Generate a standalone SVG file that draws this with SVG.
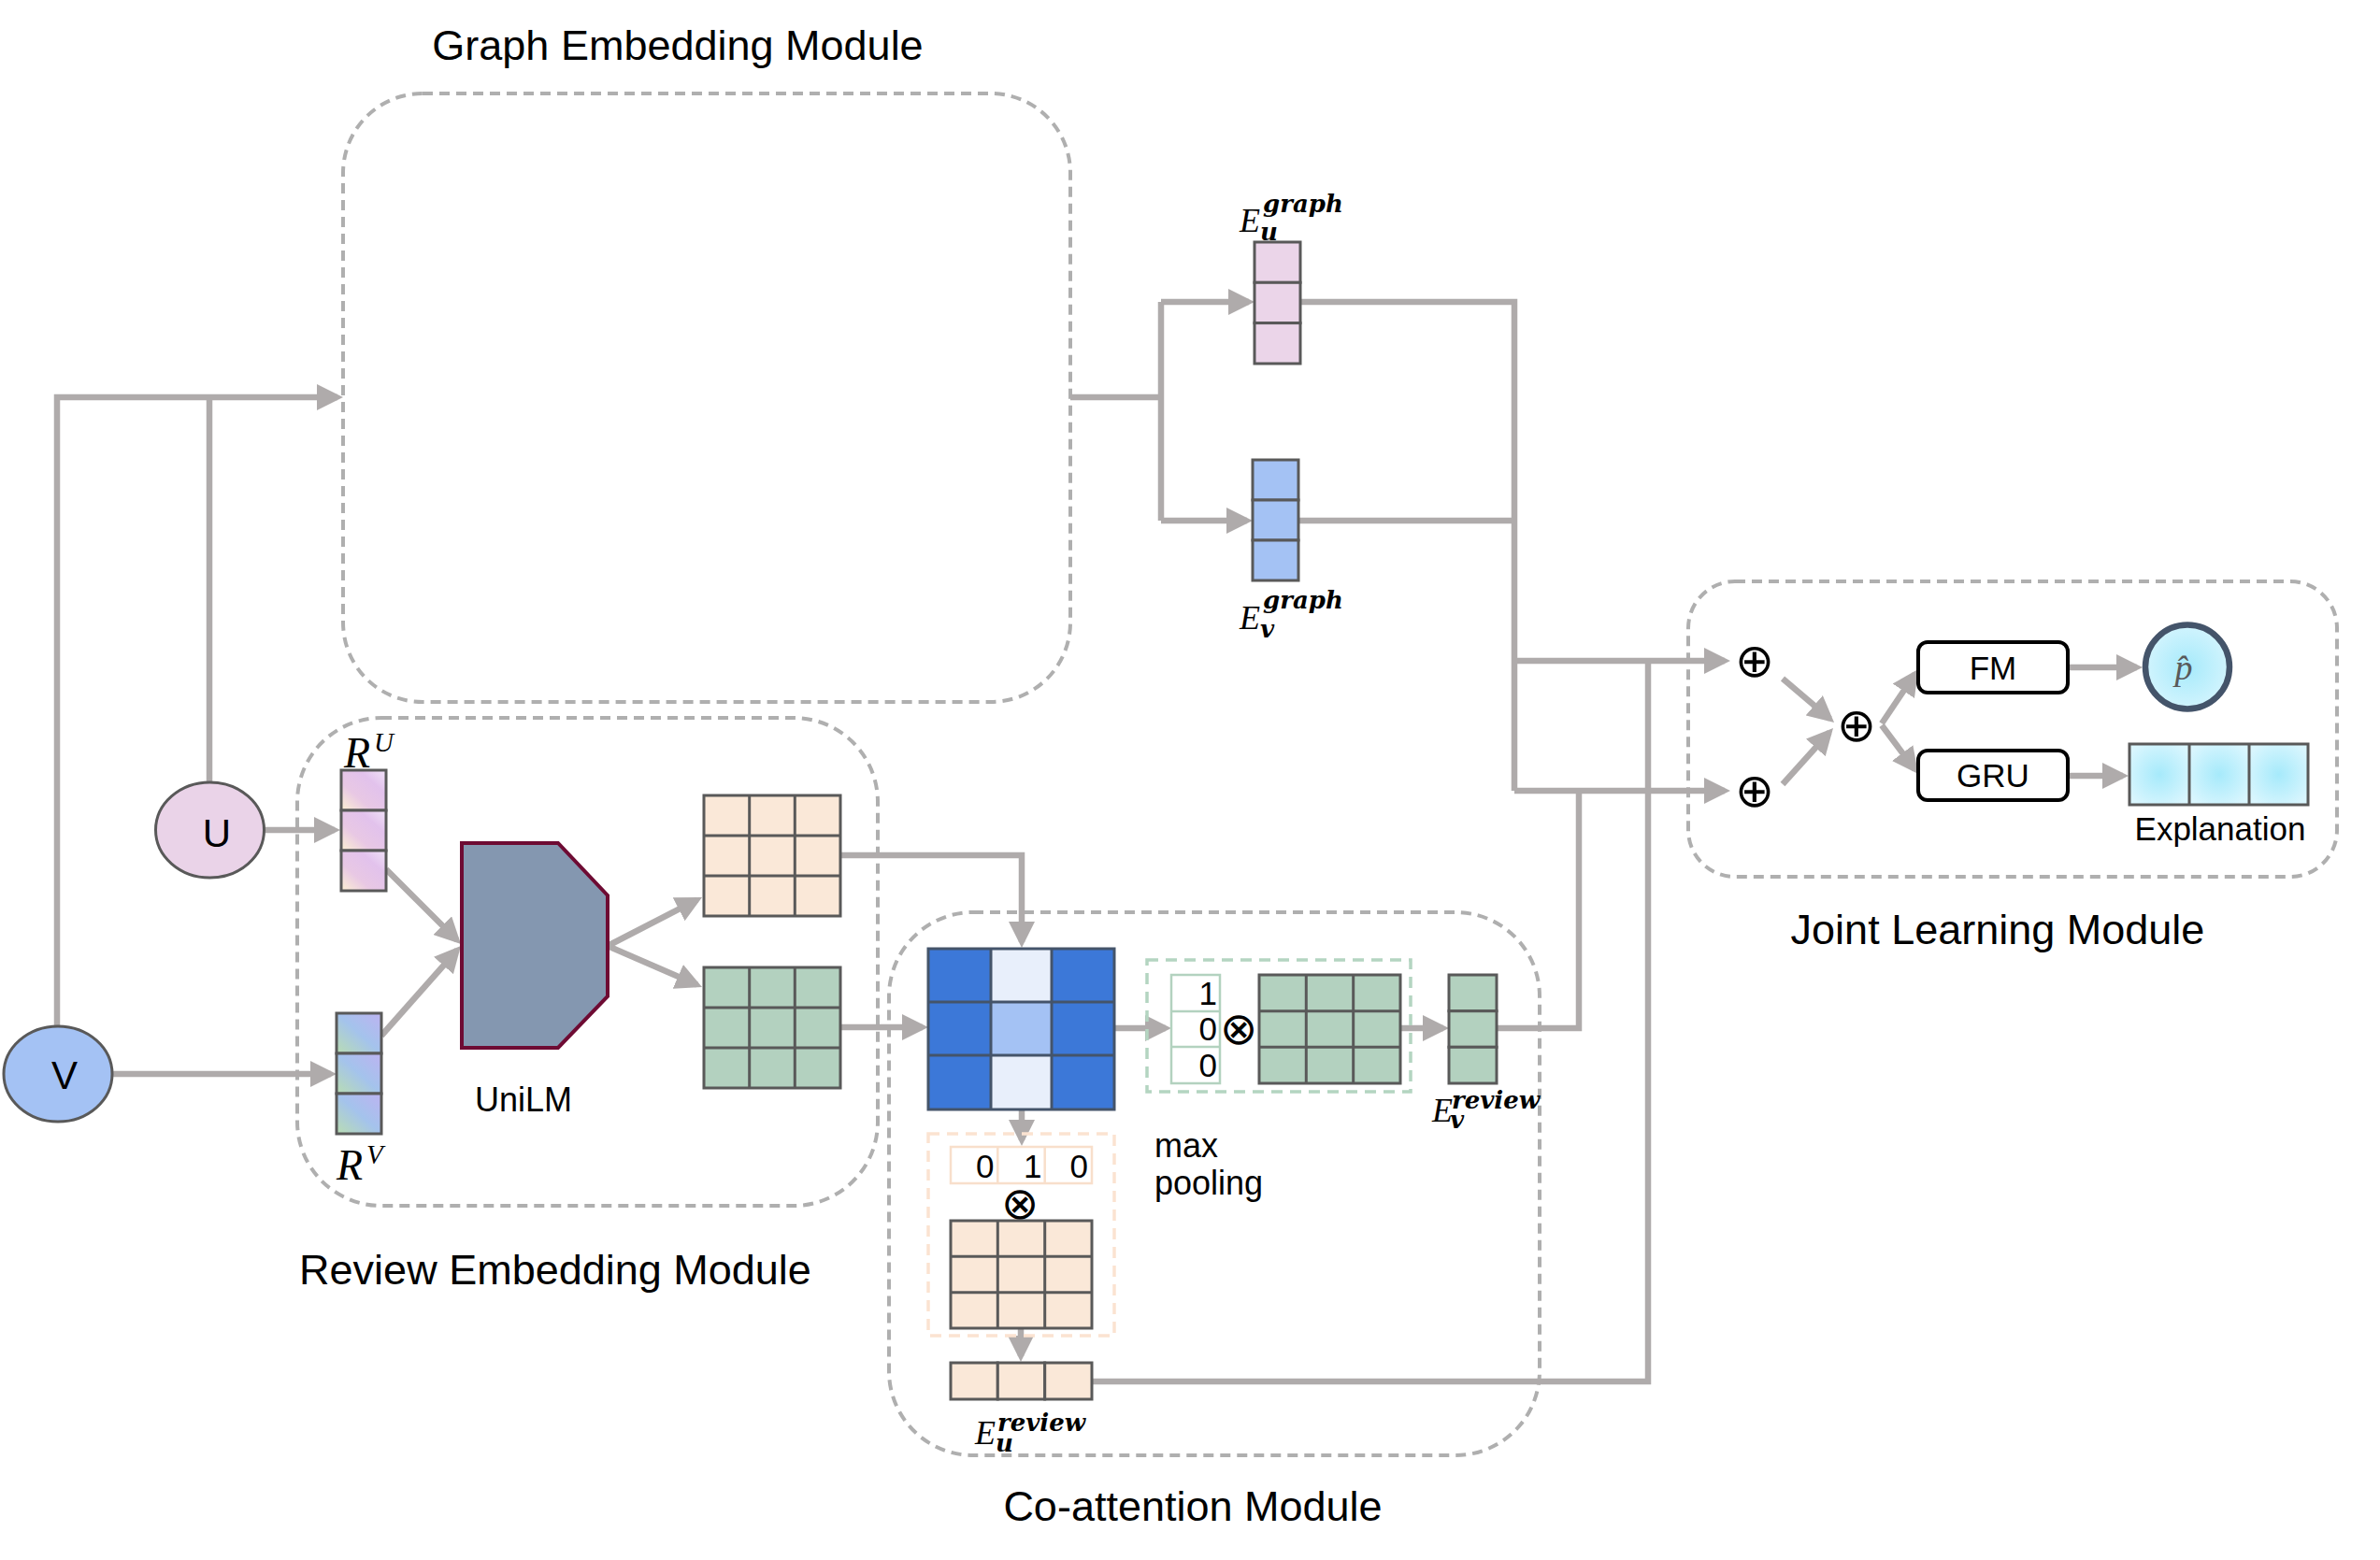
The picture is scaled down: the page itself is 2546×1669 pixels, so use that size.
<svg xmlns="http://www.w3.org/2000/svg" width="2546" height="1669" viewBox="0 0 2546 1669">
<style>
.title{font-family:"Liberation Sans",Arial,sans-serif;font-size:45px;fill:#000;text-anchor:middle}
.lbl{font-family:"Liberation Sans",Arial,sans-serif;fill:#000}
.module{fill:none;stroke:#AFAFAF;stroke-width:4;stroke-dasharray:11 7}
.conn{fill:none;stroke:#AFABAB;stroke-width:6.5;marker-end:url(#ah)}
.line{fill:none;stroke:#AFABAB;stroke-width:6.5}
.cell{stroke:#595959;stroke-width:3}
.pink{fill:#EBD5E9}
.blue{fill:#A4C2F4}
.peach{fill:#FAE8D8}
.green{fill:#B3D1BF}
.math{fill:#000}
.mE{font-family:"Liberation Serif","Times New Roman",serif;font-style:italic;font-weight:normal;font-size:36px}
.msup{font-family:"DejaVu Serif",serif;font-style:italic;font-weight:bold;font-size:26px}
.mR{font-family:"Liberation Serif","Times New Roman",serif;font-style:italic;font-size:46px}
.mRs{font-family:"Liberation Serif","Times New Roman",serif;font-style:italic;font-size:29px}
.op{font-family:"DejaVu Sans",sans-serif;fill:#000;text-anchor:middle}
.num{font-family:"Liberation Sans",Arial,sans-serif;font-size:35px;fill:#000;text-anchor:end}
</style>
<defs>
<marker id="ah" markerUnits="userSpaceOnUse" markerWidth="28" markerHeight="28" viewBox="0 0 28 28" refX="22" refY="14" orient="auto">
<path d="M0,0 L28,14 L0,28 z" fill="#AFABAB"/>
</marker>
<linearGradient id="gRU" x1="0" y1="1" x2="1" y2="0">
<stop offset="0" stop-color="#FCF0D2"/>
<stop offset="0.35" stop-color="#E8C8E4"/>
<stop offset="0.7" stop-color="#E2C2EC"/>
<stop offset="1" stop-color="#F1E3F8"/>
</linearGradient>
<linearGradient id="gRV" x1="0" y1="1" x2="1" y2="0">
<stop offset="0" stop-color="#B9DDB2"/>
<stop offset="0.5" stop-color="#A4C3EC"/>
<stop offset="1" stop-color="#BDB3F1"/>
</linearGradient>
<radialGradient id="gCy" cx="0.5" cy="0.5" r="0.6">
<stop offset="0" stop-color="#A6EAFB"/>
<stop offset="1" stop-color="#DAF6FE"/>
</radialGradient>
</defs>
<rect width="2546" height="1669" fill="#fff"/>

<g id="graph-module">
<rect class="module" x="367" y="100" width="778" height="651" rx="85" ry="85"/>
<text class="title" x="725" y="64">Graph Embedding Module</text>
</g>
<g id="review-module">
<rect class="module" x="318" y="768" width="621" height="522" rx="90" ry="90"/>
<text class="title" x="594" y="1374">Review Embedding Module</text>
</g>
<g id="coattention-module">
<rect class="module" x="951" y="976" width="696" height="581" rx="90" ry="90"/>
<text class="title" x="1276" y="1627">Co-attention Module</text>
</g>
<g id="joint-module">
<rect class="module" x="1806" y="622" width="694" height="316" rx="50" ry="50"/>
<text class="title" x="2137" y="1010">Joint Learning Module</text>
</g>

<g id="connectors">
<path class="line" d="M224,837 V425"/>
<path class="conn" d="M61,1098 V425 H361"/>
<path class="line" d="M1145,425 H1242"/>
<path class="line" d="M1242,323 V557"/>
<path class="conn" d="M1242,323 H1336"/>
<path class="conn" d="M1242,557 H1334"/>
<path class="line" d="M1391,323 H1620 V846"/>
<path class="line" d="M1389,557 H1620"/>
<path class="conn" d="M1620,707 H1845"/>
<path class="conn" d="M1620,846 H1845"/>
<path class="line" d="M1601,1100 H1689 V846"/>
<path class="line" d="M1168,1478 H1763 V707"/>
<path class="conn" d="M283,888 H358"/>
<path class="conn" d="M120,1149 H354"/>
<path class="conn" d="M413,930 L488.8,1005.8"/>
<path class="conn" d="M408,1108 L489,1016.5"/>
<path class="conn" d="M650,1012 L745.7,962.7"/>
<path class="conn" d="M650,1012 L745.5,1053.6"/>
<path class="conn" d="M899,915 H1093 V1008"/>
<path class="conn" d="M899,1099 H987"/>
<path class="conn" d="M1192,1100 H1247"/>
<path class="conn" d="M1093,1187 V1220"/>
<path class="conn" d="M1092,1421 V1451"/>
<path class="conn" d="M1498,1100 H1544"/>
<path class="conn" d="M1907,726 L1957.5,769"/>
<path class="conn" d="M1907,839 L1957,783.5"/>
<path class="conn" d="M2013,774 L2048.6,721"/>
<path class="conn" d="M2013,776 L2048.4,823.2"/>
<path class="conn" d="M2212,714 H2286"/>
<path class="conn" d="M2212,830 H2271"/>
</g>

<g id="node-U">
<ellipse cx="224.5" cy="888" rx="58" ry="51" fill="#EAD3E8" stroke="#595959" stroke-width="3"/>
<text class="lbl" x="232" y="906" font-size="42" text-anchor="middle">U</text>
</g>
<g id="node-V">
<ellipse cx="62" cy="1149" rx="58" ry="51" fill="#A4C2F4" stroke="#595959" stroke-width="3"/>
<text class="lbl" x="69" y="1165" font-size="42" text-anchor="middle">V</text>
</g>

<g id="node-RU">
<rect class="cell" x="365" y="824" width="48" height="43" fill="url(#gRU)"/>
<rect class="cell" x="365" y="867" width="48" height="43" fill="url(#gRU)"/>
<rect class="cell" x="365" y="910" width="48" height="43" fill="url(#gRU)"/>
<text class="math"><tspan class="mR" x="368" y="821">R</tspan><tspan class="mRs" x="400" y="804">U</tspan></text>
</g>
<g id="node-RV">
<rect class="cell" x="360" y="1084" width="48" height="43" fill="url(#gRV)"/>
<rect class="cell" x="360" y="1127" width="48" height="43" fill="url(#gRV)"/>
<rect class="cell" x="360" y="1170" width="48" height="43" fill="url(#gRV)"/>
<text class="math"><tspan class="mR" x="360" y="1262">R</tspan><tspan class="mRs" x="392" y="1245">V</tspan></text>
</g>

<g id="node-UniLM">
<polygon points="494,902 597,902 650,958 650,1066 597,1121 494,1121" fill="#8497B0" stroke="#6E0B33" stroke-width="4"/>
<text class="lbl" x="560" y="1189" font-size="36" text-anchor="middle">UniLM</text>
</g>

<g id="node-peach-matrix">
<rect class="cell peach" x="753" y="851" width="146" height="129"/>
<path class="cell" fill="none" d="M801.7,851 V980 M850.3,851 V980 M753,894 H899 M753,937 H899"/>
</g>
<g id="node-green-matrix">
<rect class="cell green" x="753" y="1035" width="146" height="129"/>
<path class="cell" fill="none" d="M801.7,1035 V1164 M850.3,1035 V1164 M753,1078 H899 M753,1121 H899"/>
</g>

<g id="node-attention">
<rect x="993" y="1015" width="67" height="57" fill="#3C78D8"/>
<rect x="993" y="1072" width="67" height="57" fill="#3C78D8"/>
<rect x="993" y="1129" width="67" height="58" fill="#3C78D8"/>
<rect x="1060" y="1015" width="65" height="57" fill="#E8EFFB"/>
<rect x="1060" y="1072" width="65" height="57" fill="#A4C2F4"/>
<rect x="1060" y="1129" width="65" height="58" fill="#E8EFFB"/>
<rect x="1125" y="1015" width="67" height="57" fill="#3C78D8"/>
<rect x="1125" y="1072" width="67" height="57" fill="#3C78D8"/>
<rect x="1125" y="1129" width="67" height="58" fill="#3C78D8"/>
<rect x="993" y="1015" width="199" height="172" fill="none" stroke="#44546A" stroke-width="3"/>
<path fill="none" stroke="#44546A" stroke-width="3" d="M1060,1015 V1187 M1125,1015 V1187 M993,1072 H1192 M993,1129 H1192"/>
</g>

<g id="node-maxpool-v">
<rect x="1227" y="1027" width="282" height="141" fill="none" stroke="#B4D5C1" stroke-width="3.5" stroke-dasharray="12 8"/>
<rect x="1253" y="1043" width="52" height="116" fill="#fff" stroke="#B3D2BF" stroke-width="2.5"/>
<path fill="none" stroke="#B3D2BF" stroke-width="2.5" d="M1253,1082 H1305 M1253,1120 H1305"/>
<text class="num" x="1302" y="1075">1</text>
<text class="num" x="1302" y="1113">0</text>
<text class="num" x="1302" y="1152">0</text>
<text class="op" x="1325" y="1117" font-size="48">⊗</text>
<rect class="cell green" x="1347" y="1043" width="151" height="116"/>
<path class="cell" fill="none" d="M1397.3,1043 V1159 M1447.7,1043 V1159 M1347,1081.7 H1498 M1347,1120.3 H1498"/>
<text class="lbl" x="1235" y="1238" font-size="36">max</text>
<text class="lbl" x="1235" y="1278" font-size="36">pooling</text>
</g>

<g id="node-maxpool-u">
<rect x="993" y="1213" width="199" height="216" fill="none" stroke="#FBE3D1" stroke-width="3.5" stroke-dasharray="12 8"/>
<rect x="1017" y="1227" width="151" height="39" fill="#fff" stroke="#F8DFCB" stroke-width="2.5"/>
<path fill="none" stroke="#F8DFCB" stroke-width="2.5" d="M1067.3,1227 V1266 M1117.7,1227 V1266"/>
<text class="num" x="1063.5" y="1260">0</text>
<text class="num" x="1114.5" y="1260">1</text>
<text class="num" x="1164" y="1260">0</text>
<text class="op" x="1091" y="1304" font-size="48">⊗</text>
<rect class="cell peach" x="1017" y="1306" width="151" height="115"/>
<path class="cell" fill="none" d="M1067.3,1306 V1421 M1117.7,1306 V1421 M1017,1344.3 H1168 M1017,1382.7 H1168"/>
</g>

<g id="node-Eu-graph">
<rect class="cell pink" x="1342" y="259" width="49" height="43.3"/>
<rect class="cell pink" x="1342" y="302.3" width="49" height="43.3"/>
<rect class="cell pink" x="1342" y="345.6" width="49" height="43.4"/>
<text class="math"><tspan class="mE" x="1326" y="248">E</tspan><tspan class="msup" x="1351" y="227">graph</tspan><tspan class="msup" x="1348" y="257">u</tspan></text>
</g>
<g id="node-Ev-graph">
<rect class="cell blue" x="1340" y="492" width="49" height="43"/>
<rect class="cell blue" x="1340" y="535" width="49" height="43"/>
<rect class="cell blue" x="1340" y="578" width="49" height="43"/>
<text class="math"><tspan class="mE" x="1326" y="673">E</tspan><tspan class="msup" x="1351" y="651">graph</tspan><tspan class="msup" x="1348" y="682">v</tspan></text>
</g>
<g id="node-Ev-review">
<rect class="cell green" x="1550" y="1043" width="51" height="38.7"/>
<rect class="cell green" x="1550" y="1081.7" width="51" height="38.6"/>
<rect class="cell green" x="1550" y="1120.3" width="51" height="38.7"/>
<text class="math"><tspan class="mE" x="1532" y="1200">E</tspan><tspan class="msup" x="1553" y="1186">review</tspan><tspan class="msup" x="1551" y="1207">v</tspan></text>
</g>
<g id="node-Eu-review">
<rect class="cell peach" x="1017" y="1458" width="50.3" height="39"/>
<rect class="cell peach" x="1067.3" y="1458" width="50.4" height="39"/>
<rect class="cell peach" x="1117.7" y="1458" width="50.3" height="39"/>
<text class="math"><tspan class="mE" x="1043" y="1545">E</tspan><tspan class="msup" x="1067" y="1531">review</tspan><tspan class="msup" x="1065" y="1553">u</tspan></text>
</g>

<g id="node-plus-1"><text class="op" x="1877" y="724" font-size="50">⊕</text></g>
<g id="node-plus-2"><text class="op" x="1877" y="863" font-size="50">⊕</text></g>
<g id="node-plus-3"><text class="op" x="1986" y="793" font-size="50">⊕</text></g>

<g id="node-FM">
<rect x="2052" y="687" width="160" height="54" rx="10" ry="10" fill="#fff" stroke="#000" stroke-width="4"/>
<text class="lbl" x="2132" y="727" font-size="35" text-anchor="middle">FM</text>
</g>
<g id="node-GRU">
<rect x="2052" y="803" width="160" height="53" rx="10" ry="10" fill="#fff" stroke="#000" stroke-width="4"/>
<text class="lbl" x="2132" y="842" font-size="35" text-anchor="middle">GRU</text>
</g>
<g id="node-p">
<circle cx="2340" cy="713.5" r="45" fill="url(#gCy)" stroke="#44546A" stroke-width="6.5"/>
<text x="2336" y="727" font-family="Liberation Serif,'Times New Roman',serif" font-style="italic" font-size="38" fill="#595959" text-anchor="middle">p̂</text>
</g>
<g id="node-explanation">
<rect x="2278" y="796" width="64" height="65" fill="url(#gCy)"/>
<rect x="2342" y="796" width="64" height="65" fill="url(#gCy)"/>
<rect x="2406" y="796" width="63" height="65" fill="url(#gCy)"/>
<rect x="2278" y="796" width="191" height="65" fill="none" stroke="#595959" stroke-width="3"/>
<path fill="none" stroke="#595959" stroke-width="3" d="M2342,796 V861 M2406,796 V861"/>
<text class="lbl" x="2375" y="899" font-size="35" text-anchor="middle">Explanation</text>
</g>
</svg>
